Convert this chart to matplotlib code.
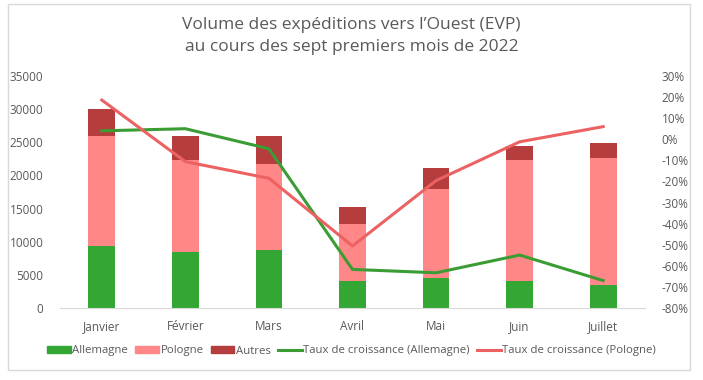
import numpy as np
import matplotlib.pyplot as plt
from matplotlib.patches import Rectangle, Patch
from matplotlib.lines import Line2D
from matplotlib.ticker import FuncFormatter

plt.rcParams['font.family'] = ['Open Sans', 'DejaVu Sans']

mois = ["Janvier", "Février", "Mars", "Avril", "Mai", "Juin", "Juillet"]
allemagne = [9400, 8500, 8700, 4100, 4500, 4100, 3400]
pologne = [16600, 13900, 13000, 8550, 13500, 18200, 19300]
autres = [4000, 3500, 4300, 2600, 3150, 2200, 2250]
taux_allemagne = [4, 5, -4.5, -61.7, -63.3, -54.9, -67]
taux_pologne = [18.6, -10.6, -18.5, -50.6, -19.6, -1.2, 6]

grey = "#595959"
c_all = "#33a633"
c_pol = "#ff8787"
c_aut = "#b53d3d"
c_lall = "#3c9c34"
c_lpol = "#ec6262"

fig = plt.figure(figsize=(7.03, 3.80), dpi=100)
fig.patches.append(Rectangle((8 / 703, 1 - 370 / 380), 682 / 703, 366 / 380,
                             transform=fig.transFigure, fill=False,
                             edgecolor="#d9d9d9", linewidth=1))

ax = fig.add_axes([60 / 703, 1 - 308 / 380, 585 / 703, 232 / 380])
x = np.arange(len(mois))
w = 0.32
bottom2 = np.array(allemagne) + np.array(pologne)
ax.bar(x, allemagne, w, color=c_all, zorder=2)
ax.bar(x, pologne, w, bottom=allemagne, color=c_pol, zorder=2)
ax.bar(x, autres, w, bottom=bottom2, color=c_aut, zorder=2)

ax.set_xlim(-0.5, 6.5)
ax.set_ylim(0, 35000)
ax.set_yticks(np.arange(0, 35001, 5000))
ax.set_xticks(x)
ax.set_xticklabels(mois)
for s in ["top", "right", "left"]:
    ax.spines[s].set_visible(False)
ax.spines["bottom"].set_color("#d9d9d9")
ax.tick_params(axis="both", length=0, labelsize=8.5, colors=grey)
ax.tick_params(axis="y", pad=12)
ax.tick_params(axis="x", pad=9)

ax2 = ax.twinx()
ax2.plot(x, taux_allemagne, color=c_lall, lw=2.2, zorder=3)
ax2.plot(x, taux_pologne, color=c_lpol, lw=2.2, zorder=3)
ax2.set_ylim(-80, 30)
ax2.set_yticks(np.arange(-80, 31, 10))
ax2.yaxis.set_major_formatter(FuncFormatter(lambda v, p: f"{v:.0f}%"))
for s in ax2.spines.values():
    s.set_visible(False)
ax2.tick_params(axis="y", length=0, labelsize=8.5, colors=grey, pad=12)

fig.text(0.5, 1 - 25 / 380, "Volume des expéditions vers l’Ouest (EVP)",
         ha="center", va="center", fontsize=12.5, color=grey)
fig.text(0.5, 1 - 47 / 380, "au cours des sept premiers mois de 2022",
         ha="center", va="center", fontsize=12.5, color=grey)

handles = [
    Patch(color=c_all, label="Allemagne"),
    Patch(color=c_pol, label="Pologne"),
    Patch(color=c_aut, label="Autres"),
    Line2D([], [], color=c_lall, lw=2.2, label="Taux de croissance (Allemagne)"),
    Line2D([], [], color=c_lpol, lw=2.2, label="Taux de croissance (Pologne)"),
]
leg = fig.legend(handles=handles, loc="center", bbox_to_anchor=(0.5, 1 - 351 / 380),
                 ncol=5, frameon=False, fontsize=8.2, handlelength=2.1,
                 handleheight=0.5, handletextpad=0.15, columnspacing=0.6)
for t in leg.get_texts():
    t.set_color(grey)

fig.savefig("out.png", dpi=100)
